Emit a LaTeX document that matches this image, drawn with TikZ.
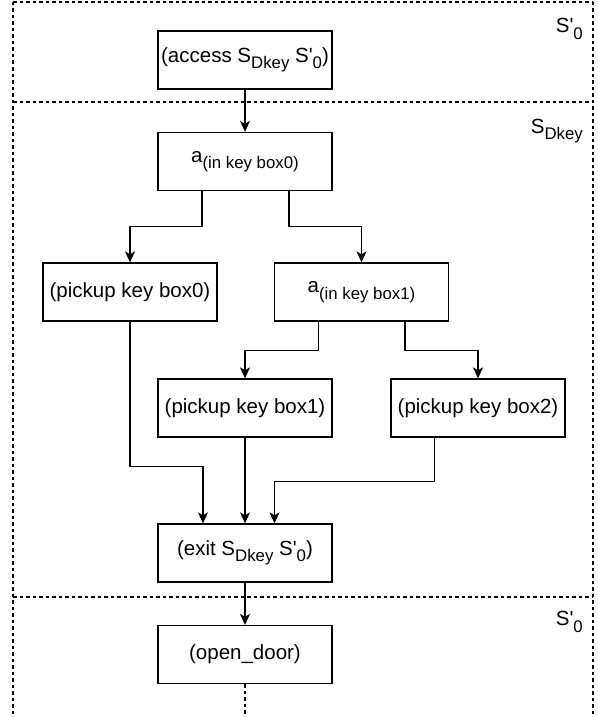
\documentclass[tikz,border=0pt]{standalone}
\usepackage{fontspec}
\setmainfont{Liberation Sans}[Ligatures=TeXOff]
\usetikzlibrary{arrows.meta}
\newcommand\subtx[1]{\raisebox{-6.5pt}{\fontsize{16.8}{17}\selectfont #1}}
\begin{document}
\begin{tikzpicture}[x=1pt,y=-1pt, font=\fontsize{20.5}{24}\selectfont,
  box/.style={draw, line width=1.3pt, minimum width=174pt, minimum height=58pt, inner sep=0pt},
  arr/.style={-{Stealth[length=11pt,width=10pt,inset=3pt]}, line width=1.3pt},
  frame/.style={dash pattern=on 3.5pt off 3pt, line width=1.2pt},
  lbl/.style={inner sep=0pt, anchor=east}]
\useasboundingbox (0,0) rectangle (597,717);
% dashed frame
\coordinate (tl) at (13,2);
\coordinate (tr) at (593,2);
\coordinate (bl) at (13,717);
\coordinate (br) at (593,717);
\coordinate (m1l) at (13,102);
\coordinate (m1r) at (593,102);
\coordinate (m2l) at (13,597);
\coordinate (m2r) at (593,597);
\draw[frame] (tl) -- (bl);
\draw[frame] (tr) -- (br);
\draw[frame] (tl) -- (tr);
\draw[frame] (m1l) -- (m1r);
\draw[frame] (m2l) -- (m2r);
% region labels
\node[lbl] (s0a) at (583,29) {S'\subtx{0}};
\node[lbl] (sdk) at (583,131) {S\subtx{Dkey}};
\node[lbl] (s0b) at (583,622) {S'\subtx{0}};
% boxes
\node[box] (acc) at (245,60) {(access S\subtx{Dkey} S'\subtx{0})};
\node[box] (a0) at (245,161.5) {a\subtx{(in key box0)}};
\node[box] (p0) at (130,292) {(pickup key box0)};
\node[box] (a1) at (361.5,292) {a\subtx{(in key box1)}};
\node[box] (p1) at (245,408) {(pickup key box1)};
\node[box] (p2) at (478,408) {(pickup key box2)};
\node[box] (ex) at (245,553) {(exit S\subtx{Dkey} S'\subtx{0})};
\node[box] (od) at (245,654.5) {(open\_door)};
\coordinate (end) at (245,717);
% connectors
\draw[arr] (acc) -- (a0);
\draw[arr] ([xshift=-43pt]a0.south) -- ++(0,35.5) -| (p0.north);
\draw[arr] ([xshift=44pt]a0.south) -- ++(0,35.5) -| (a1.north);
\draw[arr] ([xshift=-43pt]a1.south) -- ++(0,29) -| (p1.north);
\draw[arr] ([xshift=43.5pt]a1.south) -- ++(0,29) -| (p2.north);
\draw[arr] (p0.south) -- ++(0,144.5) -| ([xshift=-42pt]ex.north);
\draw[arr] (p1) -- (ex);
\draw[arr] ([xshift=-43.5pt]p2.south) -- ++(0,43.5) -| ([xshift=29.5pt]ex.north);
\draw[arr] (ex) -- (od);
\draw[frame] (od.south) -- (end);
\end{tikzpicture}
\end{document}
